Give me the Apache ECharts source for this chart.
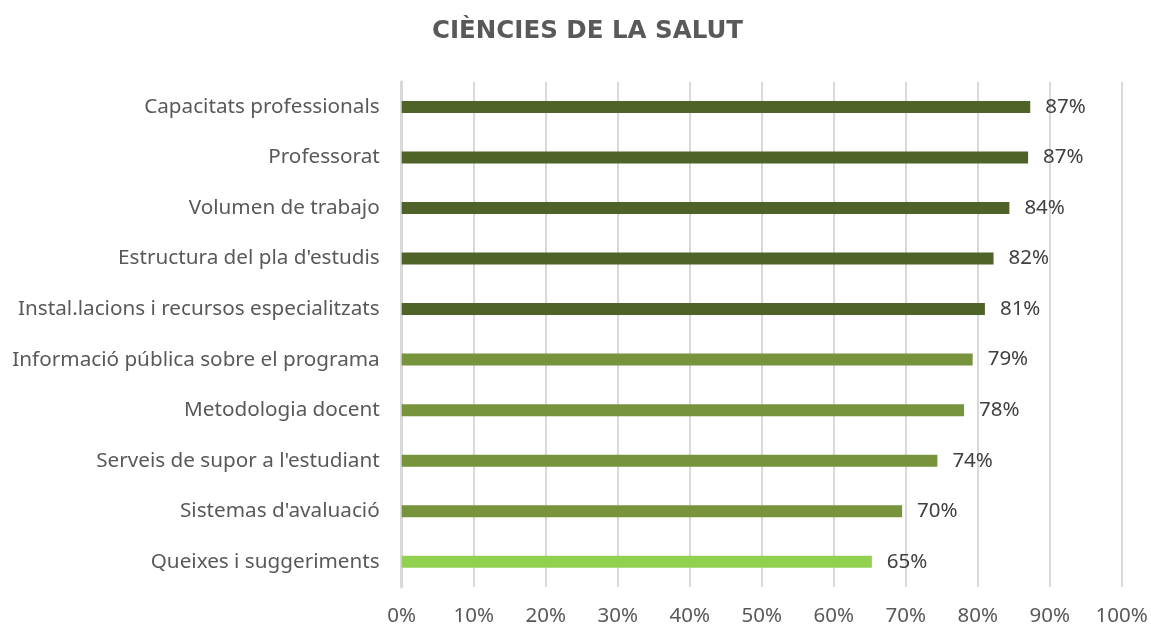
<!DOCTYPE html>
<html>
<head>
<meta charset="utf-8">
<script src="https://cdn.jsdelivr.net/npm/echarts@6/dist/echarts.min.js"></script>
<style>
html, body { margin: 0; padding: 0; background: #fff; }
#chart { width: 1151px; height: 627px; }
</style>
</head>
<body>
<div id="chart"></div>
<script>
// dades
var categories = [
    'Capacitats professionals',
    'Professorat',
    'Volumen de trabajo',
    "Estructura del pla d'estudis",
    'Instal.lacions i recursos especialitzats',
    'Informació pública sobre el programa',
    'Metodologia docent',
    "Serveis de supor a l'estudiant",
    "Sistemas d'avaluació",
    'Queixes i suggeriments'
];
var values = [87.3, 87.0, 84.4, 82.2, 81.0, 79.3, 78.1, 74.4, 69.5, 65.3];
var xTicks = [0, 10, 20, 30, 40, 50, 60, 70, 80, 90, 100];

// colors per barra
var barColors = ['#4f6228', '#4f6228', '#4f6228', '#4f6228', '#4f6228',
                 '#77933c', '#77933c', '#77933c', '#77933c', '#92d050'];

var font = '"Noto Sans", sans-serif';

var chart = echarts.init(document.getElementById('chart'));
chart.setOption({
    animation: false,
    title: {
        text: 'CIÈNCIES DE LA SALUT',
        left: 427,
        top: 14,
        textStyle: { fontFamily: '"DejaVu Sans", sans-serif', fontSize: 24.5, fontWeight: 'bold', color: '#595959' }
    },
    grid: { left: 401.7, right: 29.3, top: 81.7, bottom: 39.7, containLabel: false },
    xAxis: {
        type: 'value',
        min: xTicks[0],
        max: xTicks[xTicks.length - 1],
        interval: 10,
        axisLine: { show: false },
        axisTick: { show: false },
        splitLine: { lineStyle: { color: '#d9d9d9', width: 2 } },
        axisLabel: {
            formatter: '{value}%',
            fontFamily: font, fontSize: 20.5, color: '#595959', margin: 19
        }
    },
    yAxis: {
        type: 'category',
        inverse: true,
        data: categories,
        axisLine: { lineStyle: { color: '#d9d9d9', width: 3 } },
        axisTick: { show: false },
        axisLabel: { fontFamily: font, fontSize: 20.7, color: '#595959', margin: 22 }
    },
    series: [{
        type: 'bar',
        barWidth: 12,
        data: values.map(function (v, i) {
            return { value: v, itemStyle: { color: barColors[i] } };
        }),
        label: {
            show: true,
            position: 'right',
            distance: 15,
            formatter: function (p) { return Math.round(p.value) + '%'; },
            fontFamily: font, fontSize: 20.5, color: '#404040'
        }
    }]
});
</script>
</body>
</html>
